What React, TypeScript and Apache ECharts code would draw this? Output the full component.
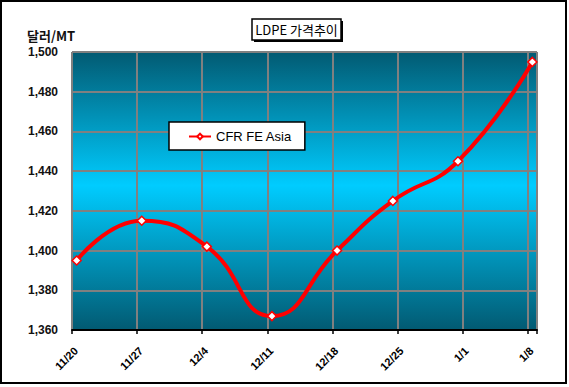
import React, { useEffect, useRef } from "react";
import * as echarts from "echarts";

const dayOffsets = [0, 7, 14, 21, 28, 34, 41, 49];
const prices = [1395, 1415, 1402, 1367, 1400, 1425, 1445, 1495];
const tickLabels = ["11/20", "11/27", "12/4", "12/11", "12/18", "12/25", "1/1", "1/8"];
const seriesName = "CFR FE Asia";
const titleText = "LDPE 가격추이";
const unitText = "달러/MT";

export default function App() {
  const ref = useRef<HTMLDivElement>(null);
  useEffect(() => {
    if (!ref.current) return;
    const chart = echarts.init(ref.current, undefined, { renderer: "svg" });
    const data = dayOffsets.map((d, i) => [d + 0.5, prices[i]]);
    chart.setOption({
      animation: false,
      backgroundColor: "#ffffff",
      grid: {
        show: true,
        left: 72,
        top: 52,
        width: 465,
        height: 278,
        borderWidth: 0,
        backgroundColor: new echarts.graphic.LinearGradient(0, 0, 0, 1, [
          { offset: 0, color: "#025a72" },
          { offset: 0.48, color: "#00ccff" },
          { offset: 1, color: "#025a72" },
        ]),
      },
      legend: {
        left: 169,
        top: 122,
        backgroundColor: "#ffffff",
        borderColor: "#000000",
        borderWidth: 1.5,
        borderRadius: 0,
        padding: [8, 13, 7, 19],
        itemWidth: 22,
        itemHeight: 7,
        itemGap: 2,
        textStyle: { fontFamily: "Liberation Sans", fontSize: 13, color: "#000" },
        data: [seriesName],
      },
      xAxis: {
        type: "value",
        min: 0,
        max: 50,
        interval: 7,
        axisLine: { show: true, onZero: false, lineStyle: { color: "#000", width: 2 } },
        axisTick: { show: true, length: 4, lineStyle: { color: "#000", width: 1.5 } },
        splitLine: { show: true, lineStyle: { color: "#808080", width: 2 } },
        axisLabel: {
          rotate: 45,
          margin: 15,
          verticalAlign: "top",
          fontFamily: "Liberation Sans",
          fontSize: 11,
          fontWeight: "bold",
          color: "#000",
          showMinLabel: true,
          showMaxLabel: true,
          formatter: (v: number) => {
            if (v % 7 !== 0) return "";
            const idx = Math.round(v / 7);
            return tickLabels[idx] ?? "";
          },
        },
      },
      yAxis: {
        type: "value",
        min: 1360,
        max: 1500,
        interval: 20,
        axisLine: { show: false },
        axisTick: { show: false },
        splitLine: { show: true, lineStyle: { color: "#808080", width: 2 } },
        axisLabel: {
          margin: 14,
          fontFamily: "Liberation Sans",
          fontSize: 12,
          fontWeight: "bold",
          color: "#111",
          formatter: (v: number) => v.toLocaleString("en-US"),
        },
      },
      graphic: [
        {
          type: "rect",
          shape: { x: 1, y: 1, width: 565, height: 382 },
          style: { fill: "none", stroke: "#000", lineWidth: 2 },
          silent: true,
        },
        {
          type: "rect",
          shape: { x: 254, y: 21, width: 89, height: 21 },
          style: { fill: "#000" },
          silent: true,
        },
        {
          type: "rect",
          shape: { x: 252, y: 19, width: 89, height: 21 },
          style: { fill: "#fff", stroke: "#000", lineWidth: 1.5 },
          silent: true,
        },
        {
          type: "text",
          x: 296.5,
          y: 29.5,
          style: {
            text: titleText,
            fontFamily: "Noto Sans CJK KR",
            fontSize: 13,
            fill: "#000",
            align: "center",
            verticalAlign: "middle",
          },
          silent: true,
        },
        {
          type: "text",
          x: 27,
          y: 35,
          style: {
            text: unitText,
            fontFamily: "Noto Sans CJK KR",
            fontSize: 13,
            fontWeight: "bold",
            fill: "#111",
            align: "left",
            verticalAlign: "middle",
          },
          silent: true,
        },
      ],
      series: [
        {
          name: seriesName,
          type: "line",
          data,
          smooth: 0.5,
          symbol: "diamond",
          symbolSize: 9,
          lineStyle: { color: "#ff0000", width: 4 },
          itemStyle: { color: "#ffffff", borderColor: "#ff0000", borderWidth: 1.5 },
          clip: false,
          z: 5,
        },
      ],
    });
    return () => chart.dispose();
  }, []);
  return (
    <div
      ref={ref}
      style={{ position: "fixed", left: 0, top: 0, width: 569, height: 387 }}
    />
  );
}
